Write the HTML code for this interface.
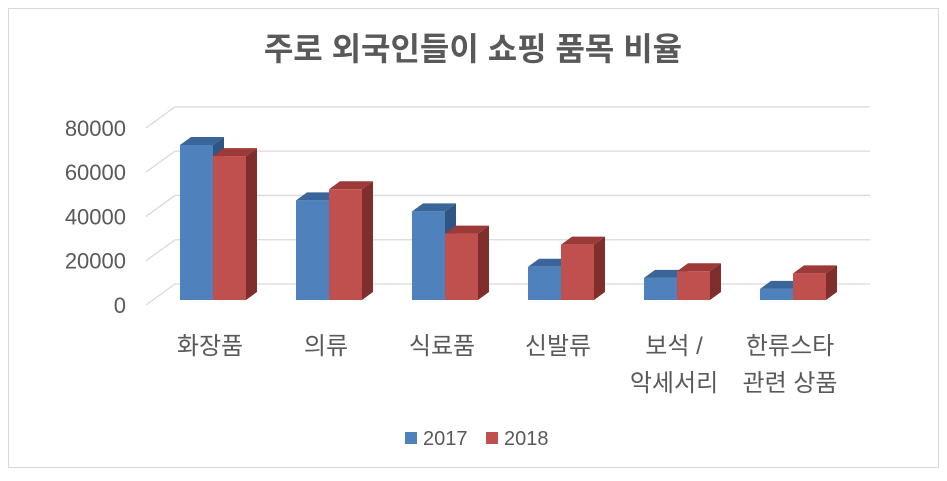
<!DOCTYPE html>
<html><head><meta charset="utf-8"><style>
body{margin:0;background:#fff;font-family:"Liberation Sans","Noto Sans CJK KR",sans-serif}
</style></head><body>
<svg width="947" height="476" viewBox="0 0 947 476" xmlns="http://www.w3.org/2000/svg" font-family="Liberation Sans, Noto Sans CJK KR, sans-serif">
<rect x="8.5" y="8.5" width="930" height="459" fill="#fff" stroke="#d9d9d9"/>
<text x="473" y="60" text-anchor="middle" font-size="32" font-weight="bold" fill="#595959">주로 외국인들이 쇼핑 품목 비율</text>
<g id="grid"></g><g id="yl"></g><g id="bars"></g><g id="xl"></g>
<g>
<rect x="405" y="432" width="12" height="12" fill="#4f81bd"/>
<text x="423" y="445" font-size="20" fill="#595959">2017</text>
<rect x="486" y="432" width="12" height="12" fill="#c0504d"/>
<text x="504" y="445" font-size="20" fill="#595959">2018</text>
</g>
</svg>
<script>
const categories=[["화장품"],["의류"],["식료품"],["신발류"],["보석 /","악세서리"],["한류스타","관련 상품"]];
const s2017=[70000,45000,40000,15000,10000,5000];
const s2018=[65000,50000,30000,25000,13000,12000];
const ticks=[0,20000,40000,60000,80000];
const NS="http://www.w3.org/2000/svg";
const base=300, k=155/70000;
const y=v=>base-v*k;
function mk(t,a,p){const e=document.createElementNS(NS,t);for(const n in a)e.setAttribute(n,a[n]);p.appendChild(e);return e;}
const G=document.getElementById('grid'),YL=document.getElementById('yl'),B=document.getElementById('bars'),XL=document.getElementById('xl');
ticks.forEach(t=>{const fy=y(t)+5;
 const l=mk('polyline',{points:`146,${fy} 175,${fy-21} 870,${fy-21}`,fill:'none',stroke:'#d9d9d9','stroke-width':1.3},G);
 
 
 const tx=mk('text',{x:126,y:fy+8,'text-anchor':'end','font-size':22,fill:'#595959'},YL);tx.textContent=t;
 
 
});
function bar(x,w,v,c,top,side,name){
 const t=y(v);
 const g=mk('g',{},B);
 
 
 mk('polygon',{points:`${x},${t} ${x+11},${t-8} ${x+w+11},${t-8} ${x+w},${t}`,fill:top},g);
 mk('polygon',{points:`${x+w},${t} ${x+w+11},${t-8} ${x+w+11},${base-8} ${x+w},${base}`,fill:side},g);
 mk('rect',{x:x,y:t,width:w,height:base-t,fill:c},g);
}
categories.forEach((c,i)=>{const x0=180+i*116;
 bar(x0,33,s2017[i],'#4f81bd','#3a6598','#2f5582','bar-2017-'+i);
 bar(x0+33,33,s2018[i],'#c0504d','#9b3a38','#7f2e2c','bar-2018-'+i);
 c.forEach((ln,j)=>{const tx=mk('text',{x:x0+30,y:354+j*37,'text-anchor':'middle','font-size':24,fill:'#595959'},XL);tx.textContent=ln;
  
  });
});
</script>
</body></html>
